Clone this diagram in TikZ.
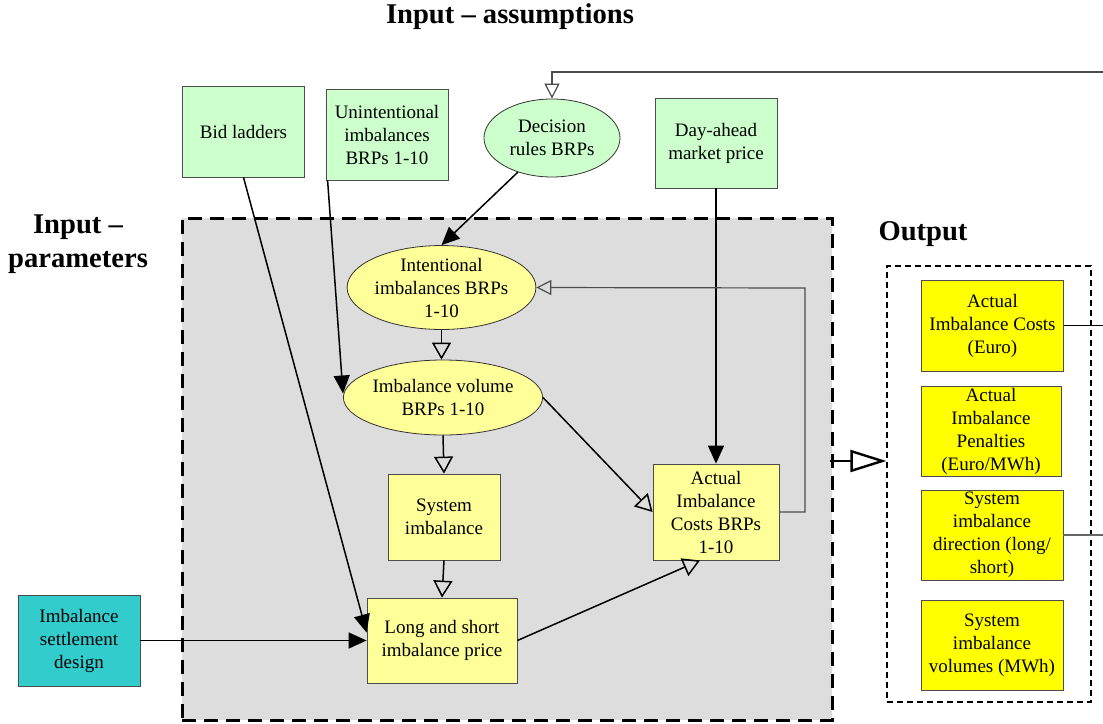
\documentclass[tikz,border=0pt]{standalone}
\usepackage{fontspec}
\setmainfont{Liberation Serif}
\usepackage{tikz}
\usetikzlibrary{arrows.meta, positioning, shapes.geometric, calc}

\definecolor{inputgreen}{HTML}{CCFFCC}
\definecolor{calcyellow}{HTML}{FFFF99}
\definecolor{outyellow}{HTML}{FFFF00}
\definecolor{designteal}{HTML}{33CCCC}
\definecolor{modelgray}{HTML}{DDDDDD}

\begin{document}
\begin{tikzpicture}[x=0.5pt, y=-0.5pt,
            font=\fontsize{9.5}{11.5}\selectfont,
            heading/.style={font=\fontsize{14.3}{17}\selectfont\bfseries, align=center},
            inbox/.style={draw=black!70, fill=inputgreen, align=center, inner sep=1pt, minimum width=61pt, minimum height=45.5pt},
            inellipse/.style={ellipse, draw=black!80, fill=inputgreen, align=center, inner sep=0pt},
            calcbox/.style={draw=black!70, fill=calcyellow, align=center, inner sep=1pt},
            calcellipse/.style={ellipse, draw=black!80, fill=calcyellow, align=center, inner sep=0pt},
            outbox/.style={draw=black!70, fill=outyellow, align=center, inner sep=1pt, minimum width=71pt, minimum height=45pt},
            flow/.style={-{Triangle[length=9pt, width=8pt]}, line width=0.75pt},
            link/.style={-{Triangle[open, length=8.5pt, width=9.5pt]}, line width=0.75pt},
            feedback/.style={-{Triangle[open, length=7.5pt, width=7.5pt]}, line width=0.6pt, draw=black!70}]

            \useasboundingbox (0,0) rectangle (1103,723);

            % Frames
            \node[draw, line width=1.5pt, dash pattern=on 7pt off 4pt, fill=modelgray,
                  minimum width=325pt, minimum height=251pt] (model) at (507,469) {};
            \node[draw, line width=0.6pt, dash pattern=on 3pt off 2pt,
                  minimum width=102pt, minimum height=218pt] (outframe) at (989,484) {};

            % Headings
            \node[heading] (title-top) at (510,17) {Input -- assumptions};
            \node[heading] (title-left) at (78,244) {Input --\\parameters};
            \node[heading] (title-out) at (923,234) {Output};

            % Inputs
            \node[inbox] (bid) at (243.5,131.5) {Bid ladders};
            \node[inbox] (unint) at (387,134.5) {Unintentional\\imbalances\\BRPs 1-10};
            \node[inellipse, minimum width=68pt, minimum height=39pt] (decision) at (552,138) {Decision\\rules BRPs};
            \node[inbox, minimum height=45pt] (dayahead) at (716,143) {Day-ahead\\market price};
            \node[inbox, fill=designteal] (settle) at (79,640.5) {Imbalance\\settlement\\design};

            % Model
            \node[calcellipse, minimum width=88.5pt, minimum height=37.5pt] (intent) at (441.5,287.5) {Intentional\\imbalances BRPs\\1-10};
            \node[calcellipse, minimum width=93pt, minimum height=37.5pt] (volume) at (443,397.5) {Imbalance volume\\BRPs 1-10};
            \node[calcbox, minimum width=56pt, minimum height=43pt] (sysimb) at (444,517) {System\\imbalance};
            \node[calcbox, minimum width=75pt, minimum height=42.5pt] (price) at (442,640.5) {Long and short\\imbalance price};
            \node[calcbox, minimum width=63pt, minimum height=48pt] (actual) at (716,512) {Actual\\Imbalance\\Costs BRPs\\1-10};

            % Outputs
            \node[outbox, minimum height=45.5pt] (out-costs) at (992.5,325.5) {Actual\\Imbalance Costs\\(Euro)};
            \node[outbox, minimum width=70pt, minimum height=44.5pt] (out-penalties) at (991,431.5) {Actual\\Imbalance\\Penalties\\(Euro/MWh)};
            \node[outbox] (out-direction) at (992,535) {System\\imbalance\\direction (long/\\short)};
            \node[outbox] (out-volumes) at (992,645) {System\\imbalance\\volumes (MWh)};

            \coordinate (loop-right) at (805,288);
            \coordinate (loop-top) at (1103,72);

            % Input arrows
            \draw[flow] (bid.south) -- ([yshift=4pt]price.west);
            \draw[flow] ([xshift=1pt]unint.south west) -- ([yshift=2pt]volume.west);
            \draw[flow] (decision.-135) -- (intent.north);
            \draw[flow] (dayahead.south) -- (actual.north);
            \draw[flow] (settle.east) -- (price.west);

            % Model arrows
            \draw[link] (intent.south) -- (intent.south |- volume.north);
            \draw[link] (volume.south) -- (sysimb.north);
            \draw[link] (sysimb.south) -- (price.north);
            \draw[link] (volume.east) -- (actual.west);
            \draw[link] (price.east) -- ([xshift=-8pt]actual.south);
            \draw[feedback] (actual.east) -| (loop-right) -- (intent.east);

            % Outputs and loop back
            \draw[line width=1.2pt, -{Triangle[open, length=18pt, width=11pt, line width=1.2pt]}]
                ([yshift=4pt, xshift=-2pt]model.east) -- ([yshift=4pt]model.east -| outframe.west);
            \draw[line width=0.6pt] (out-costs.east) -- (out-costs.east -| loop-top);
            \draw[line width=0.6pt, draw=black!60] (out-direction.east) -- (out-direction.east -| loop-top);
            \draw[feedback] (loop-top) -| (decision.north);
        \end{tikzpicture}
\end{document}
